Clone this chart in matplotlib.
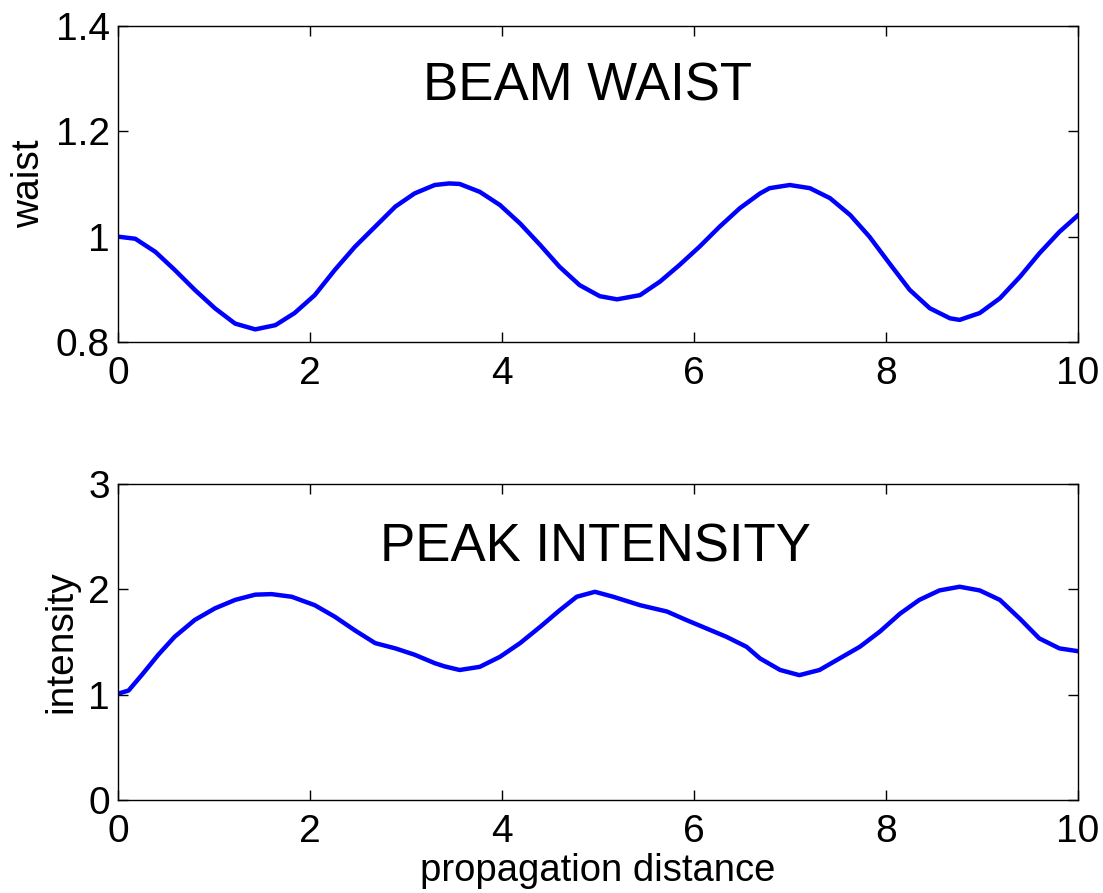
import matplotlib.pyplot as plt

plt.rcParams['font.family'] = ['Liberation Sans', 'DejaVu Sans']

# beam waist vs propagation distance
z_waist = [0.0, 0.18, 0.39, 0.59, 0.80, 1.01, 1.22, 1.43, 1.64, 1.84,
           2.05, 2.26, 2.47, 2.68, 2.89, 3.09, 3.30, 3.45, 3.56, 3.77,
           3.98, 4.19, 4.40, 4.60, 4.81, 5.02, 5.20, 5.44, 5.65, 5.85,
           6.06, 6.27, 6.48, 6.69, 6.79, 7.00, 7.21, 7.42, 7.63, 7.83,
           8.04, 8.25, 8.46, 8.67, 8.77, 8.98, 9.19, 9.40, 9.60, 9.81, 10.0]
waist = [1.000, 0.996, 0.971, 0.937, 0.899, 0.864, 0.835, 0.824, 0.832, 0.855,
         0.889, 0.937, 0.981, 1.019, 1.057, 1.082, 1.098, 1.101, 1.100, 1.085,
         1.060, 1.025, 0.984, 0.943, 0.908, 0.887, 0.881, 0.889, 0.915, 0.946,
         0.981, 1.019, 1.054, 1.082, 1.092, 1.098, 1.092, 1.073, 1.041, 1.000,
         0.949, 0.899, 0.864, 0.845, 0.842, 0.855, 0.883, 0.924, 0.968, 1.009, 1.040]

# peak intensity vs propagation distance
z_int = [0.0, 0.11, 0.25, 0.42, 0.59, 0.80, 1.01, 1.22, 1.43, 1.60,
         1.81, 2.05, 2.26, 2.47, 2.68, 2.89, 3.09, 3.30, 3.40, 3.56,
         3.77, 3.98, 4.19, 4.40, 4.60, 4.78, 4.97, 5.16, 5.44, 5.72,
         5.92, 6.13, 6.34, 6.55, 6.69, 6.90, 7.10, 7.31, 7.52, 7.73,
         7.94, 8.15, 8.35, 8.56, 8.77, 8.98, 9.19, 9.40, 9.60, 9.81, 10.0]
intensity = [1.01, 1.04, 1.19, 1.38, 1.55, 1.71, 1.82, 1.90, 1.95, 1.955,
             1.93, 1.85, 1.74, 1.61, 1.49, 1.44, 1.38, 1.30, 1.27, 1.235,
             1.265, 1.36, 1.49, 1.645, 1.80, 1.93, 1.977, 1.93, 1.85, 1.79,
             1.71, 1.63, 1.55, 1.455, 1.345, 1.235, 1.186, 1.235, 1.345, 1.455,
             1.60, 1.77, 1.90, 1.99, 2.025, 1.99, 1.90, 1.72, 1.535, 1.44, 1.414]

fig = plt.figure(figsize=(11.03, 8.93), dpi=100)
ax1 = fig.add_axes([0.107, 0.617, 0.870, 0.354])
ax2 = fig.add_axes([0.107, 0.104, 0.870, 0.354])

ax1.plot(z_waist, waist, color='#0000ff', lw=3.2, solid_joinstyle='round')
ax1.set_xlim(0, 10)
ax1.set_ylim(0.8, 1.4)
ax1.set_yticks([0.8, 1.0, 1.2, 1.4])
ax1.set_yticklabels(['0.8', '1', '1.2', '1.4'])
ax1.set_ylabel('waist', fontsize=28, labelpad=6)
ax1.text(4.89, 1.285, 'BEAM WAIST', fontsize=38, ha='center', va='center')

ax2.plot(z_int, intensity, color='#0000ff', lw=3.2, solid_joinstyle='round')
ax2.set_xlim(0, 10)
ax2.set_ylim(0, 3)
ax2.set_yticks([0, 1, 2, 3])
ax2.set_ylabel('intensity', fontsize=28, labelpad=6)
ax2.set_xlabel('propagation distance', fontsize=27.5, labelpad=2)
ax2.text(4.97, 2.4, 'PEAK INTENSITY', fontsize=38, ha='center', va='center')

for ax in (ax1, ax2):
    ax.set_xticks([0, 2, 4, 6, 8, 10])
    ax.tick_params(direction='in', length=7, width=1, labelsize=28,
                   top=True, right=True, pad=6)
    ax.tick_params(axis='x', pad=10)
    for s in ax.spines.values():
        s.set_linewidth(1)

fig.savefig('out.png', dpi=100)
